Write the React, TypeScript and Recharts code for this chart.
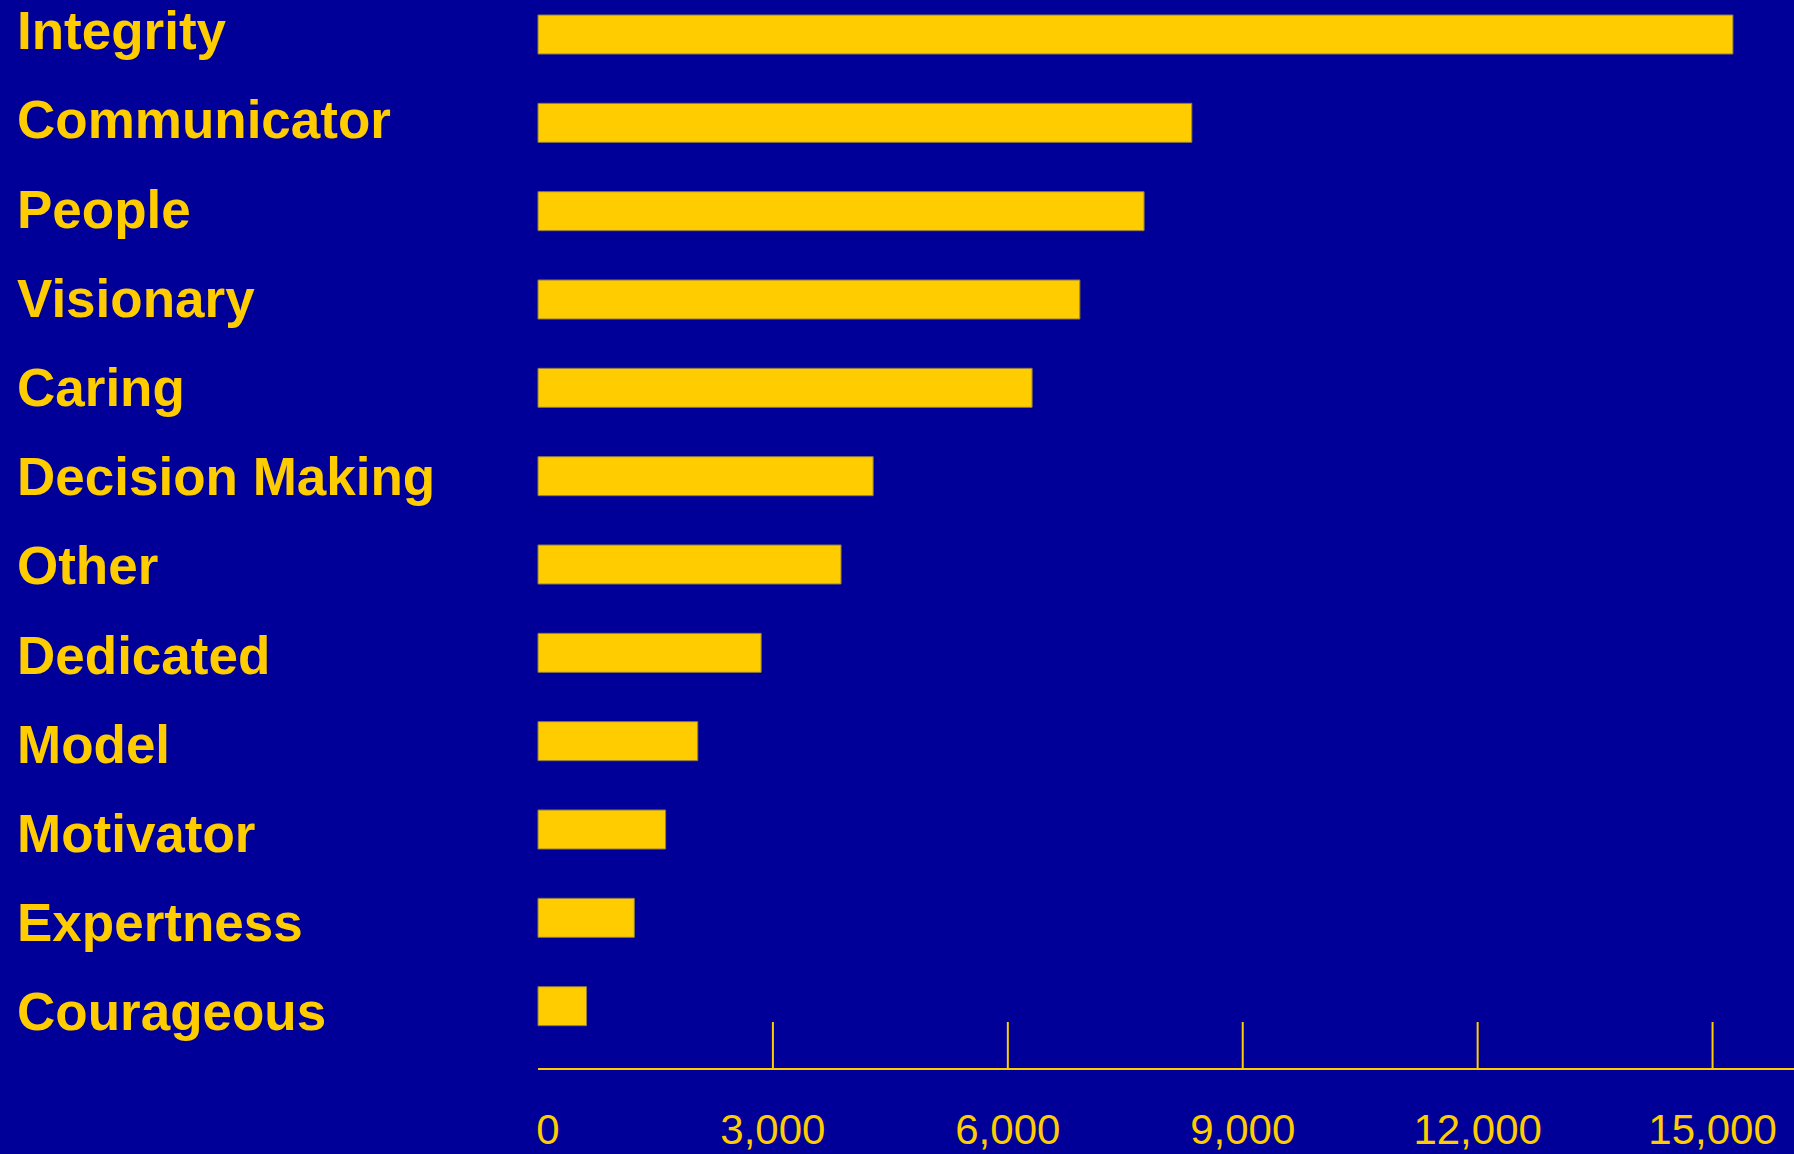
import { BarChart, Bar, XAxis, YAxis } from 'recharts'

// leadership traits, read top to bottom
const traits = [
  'Integrity', 'Communicator', 'People', 'Visionary', 'Caring', 'Decision Making',
  'Other', 'Dedicated', 'Model', 'Motivator', 'Expertness', 'Courageous',
]
const mentions = [15260, 8350, 7740, 6920, 6310, 4280, 3870, 2850, 2040, 1630, 1230, 620]
const xTicks = [0, 3000, 6000, 9000, 12000, 15000]

const BG = '#000099'
const GOLD = '#FFCC00'
const FONT = "'Liberation Sans', Arial, Helvetica, sans-serif"

const data = traits.map((name, i) => ({ name, value: mentions[i] }))

function TraitTick({ y, index, payload }: { y?: number; index?: number; payload?: { value: string } }) {
  // labels drift slightly lower than the bars as you go down
  const dy = 15 + (index ?? 0) * 0.87
  return (
    <text x={17} y={(y ?? 0) + dy} fill={GOLD} fontSize={53} fontWeight="bold" fontFamily={FONT}>
      {payload?.value}
    </text>
  )
}

function ValueTick({ x, y, payload }: { x?: number; y?: number; payload?: { value: number } }) {
  const v = payload?.value ?? 0
  const cx = x ?? 0
  const cy = y ?? 0
  return (
    <g>
      {v !== 0 && <line x1={cx} x2={cx} y1={cy - 47} y2={cy} stroke={GOLD} strokeWidth={2} />}
      <text x={v === 0 ? cx + 10 : cx} y={cy + 75} textAnchor="middle" fill={GOLD} fontSize={42} fontFamily={FONT}>
        {v.toLocaleString('en-US')}
      </text>
    </g>
  )
}

export default function App() {
  return (
    <>
      <style>{`html,body{margin:0;overflow:hidden;background:${BG}}`}</style>
      <div style={{ position: 'absolute', left: 0, top: -10, width: 1794, height: 1164, background: BG }}>
        <BarChart
          width={1794}
          height={1164}
          data={data}
          layout="vertical"
          margin={{ top: 0, right: 0, left: 0, bottom: 0 }}
        >
          <XAxis
            type="number"
            domain={[0, 16040]}
            ticks={xTicks}
            interval={0}
            height={85}
            axisLine={{ stroke: GOLD, strokeWidth: 2 }}
            tickLine={false}
            tickSize={0}
            tickMargin={0}
            tick={<ValueTick />}
          />
          <YAxis
            type="category"
            dataKey="name"
            width={538}
            interval={0}
            axisLine={false}
            tickLine={false}
            padding={{ top: 0, bottom: 19 }}
            tick={<TraitTick />}
          />
          <Bar
            dataKey="value"
            fill={GOLD}
            stroke="#8c7b48"
            strokeWidth={1}
            barSize={39}
            isAnimationActive={false}
          />
        </BarChart>
      </div>
    </>
  )
}
